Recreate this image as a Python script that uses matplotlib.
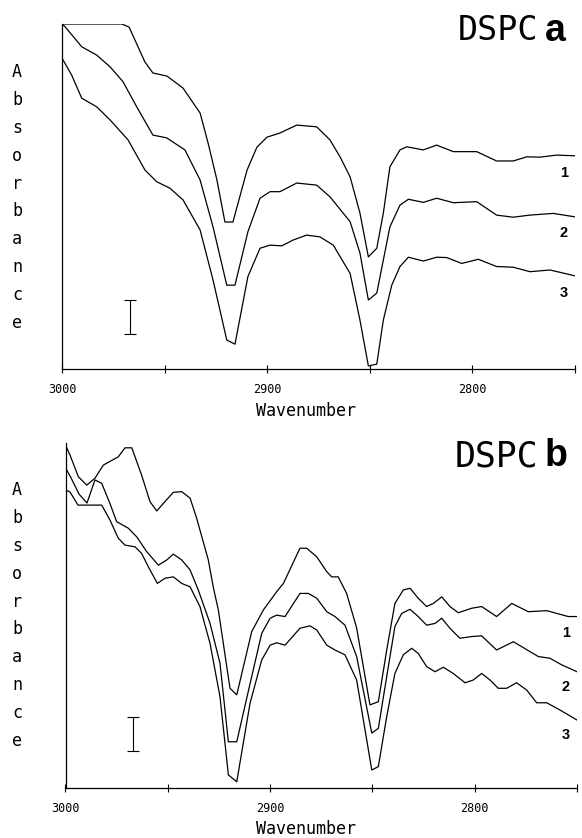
import numpy as np
import matplotlib
matplotlib.use("Agg")
import matplotlib.pyplot as plt

# panel a (DSPC a): wavenumber (cm-1) and absorbance (relative units)
a_wn1 = [3000, 2970.8, 2967.3, 2959.6, 2955.7, 2948.8, 2941.0, 2932.7, 2928.8, 2924.5, 2920.6, 2916.7,
         2909.8, 2905.0, 2900.1, 2893.8, 2885.6, 2875.9, 2869.4, 2864.5, 2859.6, 2854.8, 2850.7, 2846.6,
         2843.4, 2840.2, 2835.3, 2832.0, 2823.9, 2817.4, 2809.3, 2797.9, 2788.2, 2780.1, 2773.5, 2767.1,
         2758.9, 2750]
a_abs1 = [1.00, 1.00, 0.991, 0.890, 0.858, 0.849, 0.814, 0.742, 0.655, 0.548, 0.426, 0.426,
          0.577, 0.643, 0.672, 0.684, 0.707, 0.702, 0.664, 0.615, 0.557, 0.452, 0.325, 0.350,
          0.452, 0.586, 0.635, 0.644, 0.635, 0.649, 0.630, 0.630, 0.603, 0.603, 0.615, 0.614,
          0.620, 0.618]

a_wn2 = [3000, 2998.5, 2990.4, 2983.1, 2976.6, 2970.3, 2963.6, 2955.7, 2949.0, 2940.1, 2932.7, 2926.4,
         2919.7, 2915.7, 2909.4, 2903.5, 2898.6, 2893.8, 2885.6, 2875.9, 2869.4, 2859.6, 2854.8, 2850.7,
         2846.6, 2840.2, 2835.3, 2831.2, 2823.9, 2817.4, 2809.3, 2797.9, 2788.2, 2780.1, 2772.1, 2760.6,
         2750]
a_abs2 = [1.00, 0.992, 0.934, 0.910, 0.876, 0.833, 0.760, 0.678, 0.670, 0.635, 0.548, 0.412,
          0.243, 0.243, 0.398, 0.495, 0.514, 0.514, 0.539, 0.533, 0.499, 0.427, 0.336, 0.200,
          0.220, 0.412, 0.475, 0.492, 0.483, 0.495, 0.482, 0.485, 0.446, 0.440, 0.446, 0.451,
          0.441]

a_wn3 = [3000, 2995.3, 2990.4, 2983.1, 2976.6, 2967.8, 2959.6, 2953.9, 2947.4, 2941.0, 2932.7, 2926.4,
         2919.7, 2915.7, 2909.4, 2903.5, 2898.6, 2892.9, 2887.3, 2880.8, 2874.3, 2867.8, 2859.6, 2854.8,
         2850.7, 2846.6, 2843.4, 2839.3, 2835.3, 2831.2, 2823.9, 2817.4, 2812.5, 2805.2, 2797.1, 2788.2,
         2780.1, 2771.9, 2762.2, 2750]
a_abs3 = [0.901, 0.852, 0.785, 0.760, 0.722, 0.664, 0.577, 0.543, 0.524, 0.490, 0.403, 0.258,
          0.084, 0.072, 0.268, 0.350, 0.359, 0.357, 0.374, 0.388, 0.383, 0.359, 0.277, 0.142,
          0.009, 0.014, 0.142, 0.243, 0.297, 0.324, 0.313, 0.324, 0.323, 0.306, 0.318, 0.297,
          0.295, 0.282, 0.287, 0.270]

# panel b (DSPC b)
b_wn1 = [3000, 2997.8, 2993.7, 2989.6, 2985.6, 2981.5, 2974.2, 2970.9, 2967.6, 2962.8, 2958.7, 2955.4,
         2951.4, 2947.3, 2943.2, 2939.1, 2935.9, 2930.2, 2927.8, 2925.3, 2919.6, 2916.3, 2909.0, 2903.3,
         2896.8, 2893.5, 2885.4, 2882.1, 2877.2, 2872.3, 2869.9, 2866.7, 2862.6, 2857.7, 2851.2, 2847.1,
         2843.0, 2839.0, 2834.9, 2831.6, 2827.6, 2823.5, 2820.2, 2816.1, 2812.1, 2808.0, 2801.5, 2796.6,
         2789.3, 2781.9, 2773.8, 2764.8, 2754.3, 2750]
b_abs1 = [0.994, 0.965, 0.902, 0.878, 0.898, 0.936, 0.960, 0.986, 0.986, 0.907, 0.830, 0.803,
          0.830, 0.857, 0.859, 0.840, 0.782, 0.661, 0.583, 0.516, 0.289, 0.270, 0.453, 0.516,
          0.569, 0.593, 0.695, 0.695, 0.670, 0.627, 0.612, 0.612, 0.564, 0.464, 0.241, 0.250,
          0.400, 0.535, 0.574, 0.579, 0.550, 0.526, 0.535, 0.554, 0.526, 0.508, 0.521, 0.526,
          0.497, 0.535, 0.511, 0.514, 0.497, 0.497]

b_wn2 = [3000, 2997.3, 2993.4, 2989.5, 2985.6, 2982.3, 2978.3, 2975.0, 2969.3, 2965.2, 2960.3, 2954.6,
         2950.5, 2947.3, 2943.2, 2939.1, 2935.1, 2929.4, 2924.5, 2920.4, 2916.3, 2909.0, 2904.1, 2900.0,
         2896.8, 2892.7, 2885.4, 2881.3, 2877.2, 2872.3, 2868.3, 2863.4, 2857.7, 2850.3, 2847.1, 2843.0,
         2839.0, 2835.7, 2831.6, 2827.6, 2823.5, 2819.4, 2816.1, 2812.1, 2807.2, 2801.5, 2796.6, 2789.3,
         2781.1, 2768.9, 2763.2, 2757.5, 2750]
b_abs2 = [0.928, 0.899, 0.852, 0.826, 0.893, 0.883, 0.825, 0.772, 0.753, 0.728, 0.685, 0.646,
          0.661, 0.678, 0.661, 0.632, 0.574, 0.478, 0.362, 0.134, 0.134, 0.323, 0.448, 0.492,
          0.501, 0.497, 0.564, 0.564, 0.550, 0.511, 0.497, 0.472, 0.381, 0.159, 0.173, 0.323,
          0.468, 0.506, 0.518, 0.497, 0.472, 0.477, 0.492, 0.463, 0.434, 0.439, 0.441, 0.400,
          0.424, 0.381, 0.376, 0.357, 0.337]

b_wn3 = [3000, 2997.8, 2993.9, 2989.3, 2982.3, 2978.3, 2974.2, 2970.9, 2966.0, 2962.8, 2959.5, 2955.1,
         2951.4, 2947.3, 2943.2, 2939.1, 2934.3, 2929.4, 2924.5, 2920.4, 2916.3, 2909.8, 2904.1, 2900.0,
         2896.8, 2892.7, 2885.4, 2880.5, 2877.2, 2872.3, 2868.3, 2863.4, 2857.7, 2850.3, 2847.1, 2843.0,
         2839.0, 2834.9, 2830.8, 2827.6, 2823.5, 2819.4, 2815.3, 2810.5, 2804.7, 2800.7, 2796.6, 2792.5,
         2788.5, 2784.4, 2779.5, 2774.6, 2769.7, 2764.8, 2758.3, 2750]
b_abs3 = [0.864, 0.858, 0.820, 0.820, 0.820, 0.777, 0.724, 0.704, 0.699, 0.680, 0.641, 0.593,
          0.608, 0.612, 0.593, 0.583, 0.526, 0.420, 0.265, 0.038, 0.018, 0.246, 0.371, 0.414,
          0.421, 0.414, 0.463, 0.470, 0.458, 0.414, 0.400, 0.386, 0.313, 0.052, 0.062, 0.207,
          0.332, 0.386, 0.405, 0.390, 0.352, 0.337, 0.350, 0.332, 0.305, 0.313, 0.332, 0.313,
          0.289, 0.289, 0.305, 0.284, 0.247, 0.247, 0.226, 0.197]

tick_pos = [3000, 2950, 2900, 2850, 2800, 2750]
tick_lab = ['3000', '', '2900', '', '2800', '']
curve_names = ['1', '2', '3']
scale_bar = 0.1   # absorbance scale marker

W, H = 582, 838
fig = plt.figure(figsize=(W / 100, H / 100), dpi=100)

panels = [
    dict(rect=[62 / W, 1 - 369 / H, 513 / W, 345 / H], letter='a', data=[(a_wn1, a_abs1), (a_wn2, a_abs2), (a_wn3, a_abs3)],
         lab_y=[0.568, 0.394, 0.220], bar_x=2967, bar_y=0.15, xlab_y=411, ylab_top=72, title_y=31, fs=24),
    dict(rect=[65.5 / W, 1 - 788 / H, 511.5 / W, 345 / H], letter='b', data=[(b_wn1, b_abs1), (b_wn2, b_abs2), (b_wn3, b_abs3)],
         lab_y=[0.449, 0.293, 0.154], bar_x=2967, bar_y=0.156, xlab_y=829, ylab_top=490, title_y=456, fs=25),
]

for p in panels:
    ax = fig.add_axes(p['rect'])
    for wn, ab in p['data']:
        ax.plot(wn, ab, color='black', lw=0.9)
    for lab, y in zip(curve_names, p['lab_y']):
        ax.text(2755.5, y, lab, ha='center', va='center', fontsize=10.5, fontweight='bold',
                family='Liberation Sans')
    ax.errorbar([p['bar_x']], [p['bar_y']], yerr=scale_bar / 2, color='black', lw=0.8,
                capsize=4, capthick=0.8)
    ax.set_xlim(3000, 2750)
    ax.set_ylim(0, 1)
    ax.spines['top'].set_visible(False)
    ax.spines['right'].set_visible(False)
    ax.spines['left'].set_linewidth(0.9)
    ax.spines['bottom'].set_linewidth(0.9)
    ax.set_yticks([])
    ax.set_xticks(tick_pos)
    ax.set_xticklabels(tick_lab, family='DejaVu Sans Mono', fontsize=8.5)
    ax.tick_params(axis='x', direction='inout', length=6, width=0.8, pad=7)

    fig.text(306 / W, 1 - p['xlab_y'] / H, 'Wavenumber', ha='center', va='center',
             family='DejaVu Sans Mono', fontsize=12)
    for i, ch in enumerate('Absorbance'):
        fig.text(17 / W, 1 - (p['ylab_top'] + i * 27.9) / H, ch, ha='center', va='center',
                 family='DejaVu Sans Mono', fontsize=12)
    fig.text(538 / W, 1 - p['title_y'] / H, 'DSPC', ha='right', va='center',
             family='DejaVu Sans Mono', fontsize=p['fs'])
    fig.text(545 / W, 1 - p['title_y'] / H, p['letter'], ha='left', va='center',
             family='Liberation Sans', fontweight='bold', fontsize=27)

fig.savefig('out.png', dpi=100)
